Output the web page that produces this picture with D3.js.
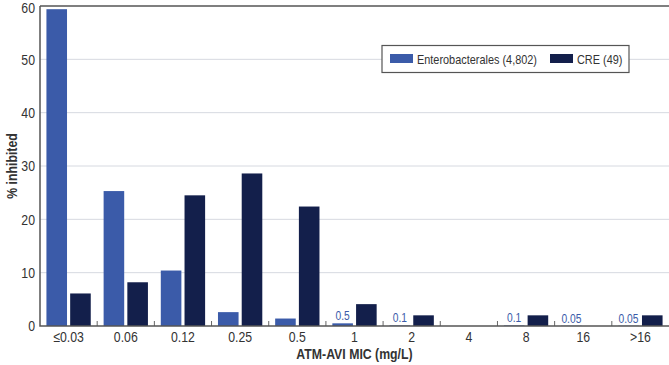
<!DOCTYPE html>
<html><head><meta charset="utf-8">
<script src="https://cdn.jsdelivr.net/npm/d3@7"></script>
<style>body{margin:0;background:#fff}svg{display:block;font-family:"Liberation Sans",Arial,sans-serif}</style>
</head><body><svg id="c" width="669" height="365"></svg>
<script>
const categories = ["≤0.03","0.06","0.12","0.25","0.5","1","2","4","8","16",">16"];
const entero = [59.4,25.3,10.4,2.6,1.4,0.5,0.1,0,0.1,0.05,0.05];
const cre = [6.1,8.2,24.5,28.6,22.4,4.1,2.0,0,2.0,0,2.0];
const smallLabels = ["","","","","","0.5","0.1","","0.1","0.05","0.05"];
const yTicks = [0,10,20,30,40,50,60];
const seriesNames = ["Enterobacterales (4,802)","CRE (49)"];
const colors = ["#3b5ba9","#131f4b"];
const K = 0.82; // condensed look

const svg = d3.select("#c");
const L=40, R=669, T=6, B=326;
const x = d3.scaleBand().domain(categories).range([L,R]).padding(0);
const y = d3.scaleLinear().domain([0,60]).range([B,T]);
const bw = x.bandwidth();
const barW = bw*0.36, gap = bw*0.055, outer = (bw-2*barW-gap)/2;

function ntext(parent, px, py, str, opts){
  const g = parent.append("g").attr("transform",`translate(${px},${py}) scale(${K},1)`);
  const t = g.append("text").attr("x",0).attr("y",0).text(str);
  Object.entries(opts||{}).forEach(([k,v])=>t.attr(k,v));
  return t;
}

// gridlines
svg.append("g").selectAll("line").data(yTicks.filter(d=>d>0&&d<60)).join("line")
  .attr("x1",L).attr("x2",R).attr("y1",d=>y(d)).attr("y2",d=>y(d))
  .attr("stroke","#d6d9e0").attr("stroke-width",1);

// bars
const g = svg.append("g");
g.selectAll(".b1").data(categories).join("rect")
  .attr("x",d=>x(d)+outer).attr("width",barW)
  .attr("y",(d,i)=>y(entero[i])).attr("height",(d,i)=>B-y(entero[i]))
  .attr("fill",colors[0]);
g.selectAll(".b2").data(categories).join("rect")
  .attr("x",d=>x(d)+outer+barW+gap).attr("width",barW)
  .attr("y",(d,i)=>y(cre[i])).attr("height",(d,i)=>B-y(cre[i]))
  .attr("fill",colors[1]);
categories.forEach((d,i)=>{
  if(smallLabels[i]) ntext(svg, x(d)+outer+barW/2, y(entero[i])-3, smallLabels[i],
    {"text-anchor":"middle","font-size":12.5,"fill":colors[0]});
});

// y axis
const ya = svg.append("g").attr("transform",`translate(${L},0)`)
  .call(d3.axisLeft(y).tickValues(yTicks).tickSize(0).tickPadding(5));
ya.select(".domain").remove();
ya.selectAll("text").attr("font-size",15).attr("fill","#333").attr("font-family","inherit")
  .attr("transform",`scale(${K},1)`).attr("x",-5/K)
  .attr("dy",d=>d===60?"0.42em":"0.32em");

// x axis
const xa = svg.append("g").attr("transform",`translate(0,${B})`)
  .call(d3.axisBottom(x).tickSize(0).tickPadding(5));
xa.select(".domain").remove();
xa.selectAll("text").attr("font-size",15).attr("fill","#333").attr("font-family","inherit")
  .attr("transform",`scale(${K},1)`);
// tick marks between categories
svg.append("g").selectAll("line").data(categories.slice(1)).join("line")
  .attr("x1",d=>x(d)).attr("x2",d=>x(d)).attr("y1",B-5).attr("y2",B)
  .attr("stroke","#666").attr("stroke-width",1);

// frame
svg.append("path").attr("d",`M${L},${T}H${R}M${L},${T}V${B}H${R}`)
  .attr("fill","none").attr("stroke","#555").attr("stroke-width",1.5);

// axis titles
ntext(svg,(L+R)/2,359,"ATM-AVI MIC (mg/L)",{"text-anchor":"middle","font-size":15,"font-weight":"bold","fill":"#333"});
svg.append("g").attr("transform",`translate(17,${(T+B)/2}) rotate(-90) scale(${K},1)`)
  .append("text").attr("text-anchor","middle")
  .attr("font-size",15).attr("font-weight","bold").attr("fill","#333").text("% inhibited");

// legend
const lg = svg.append("g");
lg.append("rect").attr("x",382).attr("y",45.5).attr("width",247).attr("height",27)
  .attr("fill","#fff").attr("stroke","#555").attr("stroke-width",1.2);
const lx=[390,550];
seriesNames.forEach((n,i)=>{
  lg.append("rect").attr("x",lx[i]).attr("y",54).attr("width",23).attr("height",9).attr("fill",colors[i]);
  ntext(lg, lx[i]+27, 63.5, n, {"font-size":13.3,"fill":"#333"});
});
</script></body></html>
